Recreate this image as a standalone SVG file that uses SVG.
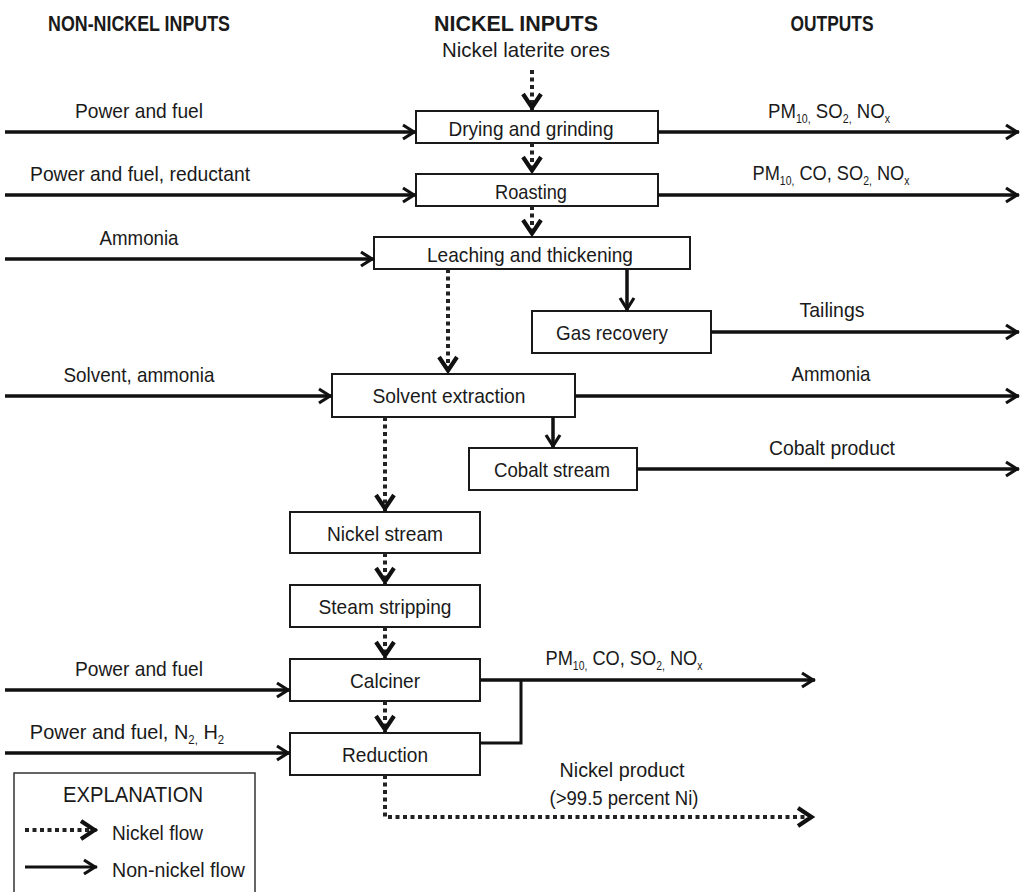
<svg xmlns="http://www.w3.org/2000/svg" width="1020" height="892" viewBox="0 0 1020 892">
  <style>
    text { font-family: "Liberation Sans", Arial, sans-serif; font-size: 21px; fill: #1a1a1a; }
    .hdr { font-weight: bold; font-size: 22px; text-anchor: middle; }
    .mid { text-anchor: middle; }
    .sub { font-size: 12px; }
    .box { fill: #ffffff; stroke: #1a1a1a; stroke-width: 2; }
    .flow { fill: none; stroke: #111111; stroke-width: 3.5; marker-end: url(#arrowSolid); }
    .line { fill: none; stroke: #111111; stroke-width: 3; }
    .nickel { fill: none; stroke: #222222; stroke-width: 4; stroke-dasharray: 4 3.5; marker-end: url(#arrowNickel); }
  </style>
  <defs>
    <marker id="arrowSolid" markerUnits="userSpaceOnUse" viewBox="-16 -10 18 20" markerWidth="18" markerHeight="20" refX="0" refY="0" orient="auto" overflow="visible">
      <path d="M-13,-7 L-2,0 L-13,7" fill="none" stroke="#111111" stroke-width="3.2"/>
    </marker>
    <marker id="arrowNickel" markerUnits="userSpaceOnUse" viewBox="-20 -12 22 24" markerWidth="22" markerHeight="24" refX="0" refY="0" orient="auto" overflow="visible">
      <path d="M-17,-9 L-3.5,0 L-17,9" fill="none" stroke="#111111" stroke-width="4.2"/>
    </marker>
  </defs>

  <!-- column headings -->
  <g id="headings">
    <text class="hdr" x="139" y="31" textLength="182" lengthAdjust="spacingAndGlyphs">NON-NICKEL INPUTS</text>
    <text class="hdr" x="516" y="31" textLength="164" lengthAdjust="spacingAndGlyphs">NICKEL INPUTS</text>
    <text class="hdr" x="832" y="31" textLength="83" lengthAdjust="spacingAndGlyphs">OUTPUTS</text>
    <text class="mid" x="526" y="57" textLength="168" lengthAdjust="spacingAndGlyphs">Nickel laterite ores</text>
  </g>

  <!-- process steps -->
  <g id="drying">
    <rect class="box" x="416" y="111" width="242" height="32"/>
    <text class="mid" x="531" y="136" textLength="165" lengthAdjust="spacingAndGlyphs">Drying and grinding</text>
  </g>
  <g id="roasting">
    <rect class="box" x="416" y="174" width="242" height="32"/>
    <text class="mid" x="531" y="199" textLength="72" lengthAdjust="spacingAndGlyphs">Roasting</text>
  </g>
  <g id="leaching">
    <rect class="box" x="374" y="237" width="316" height="32"/>
    <text class="mid" x="530" y="262" textLength="206" lengthAdjust="spacingAndGlyphs">Leaching and thickening</text>
  </g>
  <g id="gas-recovery">
    <rect class="box" x="532" y="311" width="179" height="42"/>
    <text class="mid" x="612" y="340" textLength="112" lengthAdjust="spacingAndGlyphs">Gas recovery</text>
  </g>
  <g id="solvent-extraction">
    <rect class="box" x="332" y="374" width="243" height="43"/>
    <text class="mid" x="449" y="403" textLength="153" lengthAdjust="spacingAndGlyphs">Solvent extraction</text>
  </g>
  <g id="cobalt-stream">
    <rect class="box" x="469" y="448" width="168" height="42"/>
    <text class="mid" x="552" y="477" textLength="116" lengthAdjust="spacingAndGlyphs">Cobalt stream</text>
  </g>
  <g id="nickel-stream">
    <rect class="box" x="290" y="512" width="190" height="41"/>
    <text class="mid" x="385" y="541" textLength="116" lengthAdjust="spacingAndGlyphs">Nickel stream</text>
  </g>
  <g id="steam-stripping">
    <rect class="box" x="290" y="585" width="190" height="42"/>
    <text class="mid" x="385" y="614" textLength="133" lengthAdjust="spacingAndGlyphs">Steam stripping</text>
  </g>
  <g id="calciner">
    <rect class="box" x="290" y="659" width="190" height="42"/>
    <text class="mid" x="385" y="688" textLength="70" lengthAdjust="spacingAndGlyphs">Calciner</text>
  </g>
  <g id="reduction">
    <rect class="box" x="290" y="733" width="190" height="42"/>
    <text class="mid" x="385" y="762" textLength="86" lengthAdjust="spacingAndGlyphs">Reduction</text>
  </g>

  <!-- connectors -->
  <g id="connectors">
    <!-- nickel flow -->
    <path class="nickel" d="M532,70 V111"/>
    <path class="nickel" d="M532,143 V174"/>
    <path class="nickel" d="M532,206 V237"/>
    <path class="nickel" d="M448,269 V374"/>
    <path class="nickel" d="M385,417 V512"/>
    <path class="nickel" d="M385,553 V585"/>
    <path class="nickel" d="M385,627 V659"/>
    <path class="nickel" d="M385,701 V733"/>
    <path class="nickel" d="M385,775 V817 H815"/>

    <!-- non-nickel inputs -->
    <path class="flow" d="M5,132 H416"/>
    <path class="flow" d="M5,195 H416"/>
    <path class="flow" d="M5,259 H374"/>
    <path class="flow" d="M5,396 H332"/>
    <path class="flow" d="M5,690 H290"/>
    <path class="flow" d="M5,753 H290"/>

    <!-- internal transfers -->
    <path class="flow" d="M627,269 V311"/>
    <path class="flow" d="M553,417 V448"/>

    <!-- outputs -->
    <path class="flow" d="M658,132 H1019"/>
    <path class="flow" d="M658,195 H1019"/>
    <path class="flow" d="M711,332 H1019"/>
    <path class="flow" d="M575,396 H1019"/>
    <path class="flow" d="M637,469 H1019"/>
    <path class="flow" d="M480,680 H815"/>
    <path class="line" d="M480,743 H521 V680"/>
  </g>

  <!-- flow labels -->
  <g id="labels">
    <text class="mid" x="139" y="118" textLength="128" lengthAdjust="spacingAndGlyphs">Power and fuel</text>
    <text class="mid" x="140" y="181" textLength="220" lengthAdjust="spacingAndGlyphs">Power and fuel, reductant</text>
    <text class="mid" x="139" y="245" textLength="79" lengthAdjust="spacingAndGlyphs">Ammonia</text>
    <text class="mid" x="139" y="382" textLength="151" lengthAdjust="spacingAndGlyphs">Solvent, ammonia</text>
    <text class="mid" x="139" y="676" textLength="128" lengthAdjust="spacingAndGlyphs">Power and fuel</text>
    <text class="mid" transform="translate(127,739) scale(0.95,1)">Power and fuel, N<tspan class="sub" dy="5">2,</tspan><tspan dy="-5"> H</tspan><tspan class="sub" dy="5">2</tspan></text>

    <text class="mid" transform="translate(829,118) scale(0.886,1)">PM<tspan class="sub" dy="5">10,</tspan><tspan dy="-5"> SO</tspan><tspan class="sub" dy="5">2,</tspan><tspan dy="-5"> NO</tspan><tspan class="sub" dy="5">x</tspan></text>
    <text class="mid" transform="translate(831,180) scale(0.868,1)">PM<tspan class="sub" dy="5">10,</tspan><tspan dy="-5"> CO, SO</tspan><tspan class="sub" dy="5">2,</tspan><tspan dy="-5"> NO</tspan><tspan class="sub" dy="5">x</tspan></text>
    <text class="mid" x="832" y="317" textLength="65" lengthAdjust="spacingAndGlyphs">Tailings</text>
    <text class="mid" x="831" y="381" textLength="79" lengthAdjust="spacingAndGlyphs">Ammonia</text>
    <text class="mid" x="832" y="455" textLength="126" lengthAdjust="spacingAndGlyphs">Cobalt product</text>
    <text class="mid" transform="translate(624,665) scale(0.868,1)">PM<tspan class="sub" dy="5">10,</tspan><tspan dy="-5"> CO, SO</tspan><tspan class="sub" dy="5">2,</tspan><tspan dy="-5"> NO</tspan><tspan class="sub" dy="5">x</tspan></text>
    <text class="mid" x="622" y="777" textLength="125" lengthAdjust="spacingAndGlyphs">Nickel product</text>
    <text class="mid" x="624" y="805" textLength="149" lengthAdjust="spacingAndGlyphs">(&gt;99.5 percent Ni)</text>
  </g>

  <!-- explanation box -->
  <g id="legend">
    <rect x="14" y="773" width="241" height="125" fill="#ffffff" stroke="#333333" stroke-width="1.5"/>
    <text class="mid" x="133" y="802" style="font-size:22px" textLength="140" lengthAdjust="spacingAndGlyphs">EXPLANATION</text>
    <path class="nickel" d="M25,830 H98"/>
    <text x="112" y="840" textLength="91" lengthAdjust="spacingAndGlyphs">Nickel flow</text>
    <path class="flow" d="M25,867 H97" style="stroke-width:3"/>
    <text x="112" y="877" textLength="133" lengthAdjust="spacingAndGlyphs">Non-nickel flow</text>
  </g>
</svg>
